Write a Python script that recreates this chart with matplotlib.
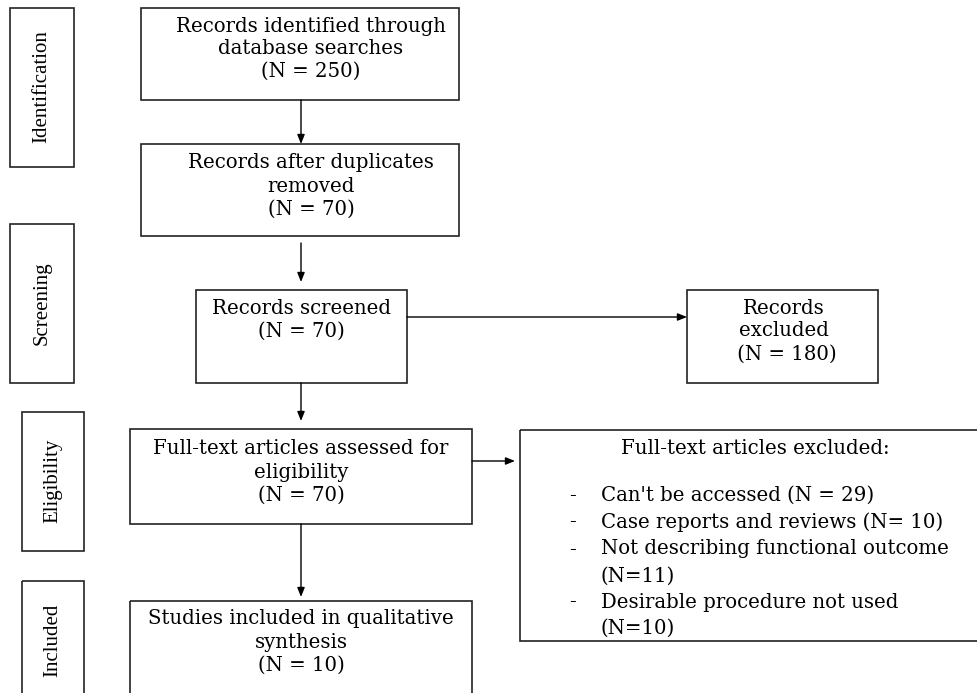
import matplotlib.pyplot as plt
from matplotlib.patches import Rectangle

plt.rcParams["font.family"] = ["DejaVu Serif"]

# stage labels on the left
STAGES = ["Identification", "Screening", "Eligibility", "Included"]

# main flow boxes: (label lines, count)
FLOW_TEXT = [
    ["Records identified through", "database searches"],
    ["Records after duplicates", "removed"],
    ["Records screened"],
    ["Full-text articles assessed for", "eligibility"],
    ["Studies included in qualitative", "synthesis"],
]
FLOW_N = [250, 70, 70, 70, 10]

EXCLUDED_TEXT = ["Records", "excluded"]
EXCLUDED_N = 180

FT_TITLE = "Full-text articles excluded:"
FT_REASONS = ["Can't be accessed", "Case reports and reviews",
              "Not describing functional outcome", "Desirable procedure not used"]
FT_N = [29, 10, 11, 10]

W, H = 977, 693
fig = plt.figure(figsize=(W / 100, H / 100), dpi=100)
ax = fig.add_axes([0, 0, 1, 1])
ax.set_xlim(0, W)
ax.set_ylim(H, 0)
ax.axis("off")

EDGE = "#222222"
FS = 14.2
SIDE_FONT = ["Liberation Serif"]


def box(x0, y0, x1, y1):
    ax.add_patch(Rectangle((x0, y0), x1 - x0, y1 - y0, fill=False,
                           edgecolor=EDGE, linewidth=1.2, clip_on=False))


def arrow(x0, y0, x1, y1):
    ax.annotate("", xy=(x1, y1), xytext=(x0, y0),
                arrowprops=dict(arrowstyle="-|>,head_width=0.22,head_length=0.55",
                                color="black", lw=1.0, shrinkA=0, shrinkB=0))


def lines(xc, ys, texts, ha="center"):
    for y, t in zip(ys, texts):
        ax.text(xc, y, t, ha=ha, va="center", fontsize=FS, color="black")


# stage side boxes
side = [(10, 8, 74, 167), (10, 224, 74, 383), (22, 412, 84, 551), (22, 581, 84, 700)]
side_y = [87, 303, 481, 640]
for (x0, y0, x1, y1), yc, name in zip(side, side_y, STAGES):
    box(x0, y0, x1, y1)
    ax.text((x0 + x1) / 2, yc, name, rotation=90, ha="center", va="center",
            fontsize=15, family=SIDE_FONT)

# main flow
flow_boxes = [(141, 8, 459, 100), (141, 144, 459, 236), (196, 290, 407, 383),
              (130, 429, 472, 524), (130, 601, 472, 700)]
flow_lines = [[26, 48, 71], [162, 186, 209], [309, 331], [449, 472, 495], [619, 642, 665]]
flow_xc = [311, 311, 301, 301, 301]
for b, ys, xc, txt, n in zip(flow_boxes, flow_lines, flow_xc, FLOW_TEXT, FLOW_N):
    box(*b)
    lines(xc, ys, txt + [f"(N = {n})"])

arrow(301, 100, 301, 144)
arrow(301, 243, 301, 282)
arrow(301, 383, 301, 421)
arrow(301, 524, 301, 597)

# records excluded
box(687, 290, 878, 383)
lines(784, [309, 331, 354], EXCLUDED_TEXT + [f" (N = {EXCLUDED_N})"])
arrow(407, 317, 687, 317)

# full-text excluded
box(520, 430, 990, 641)
arrow(472, 461, 515, 461)
ax.text(755, 449, FT_TITLE, ha="center", va="center", fontsize=FS)
reason_lines = [
    (495, f"{FT_REASONS[0]} (N = {FT_N[0]})", True),
    (522, f"{FT_REASONS[1]} (N= {FT_N[1]})", True),
    (549, FT_REASONS[2], True),
    (576, f"(N={FT_N[2]})", False),
    (602, FT_REASONS[3], True),
    (628, f"(N={FT_N[3]})", False),
]
for y, t, bullet in reason_lines:
    if bullet:
        ax.text(572, y, "-", ha="center", va="center", fontsize=FS)
    ax.text(601, y, t, ha="left", va="center", fontsize=FS)

fig.savefig("out.png", dpi=100)
